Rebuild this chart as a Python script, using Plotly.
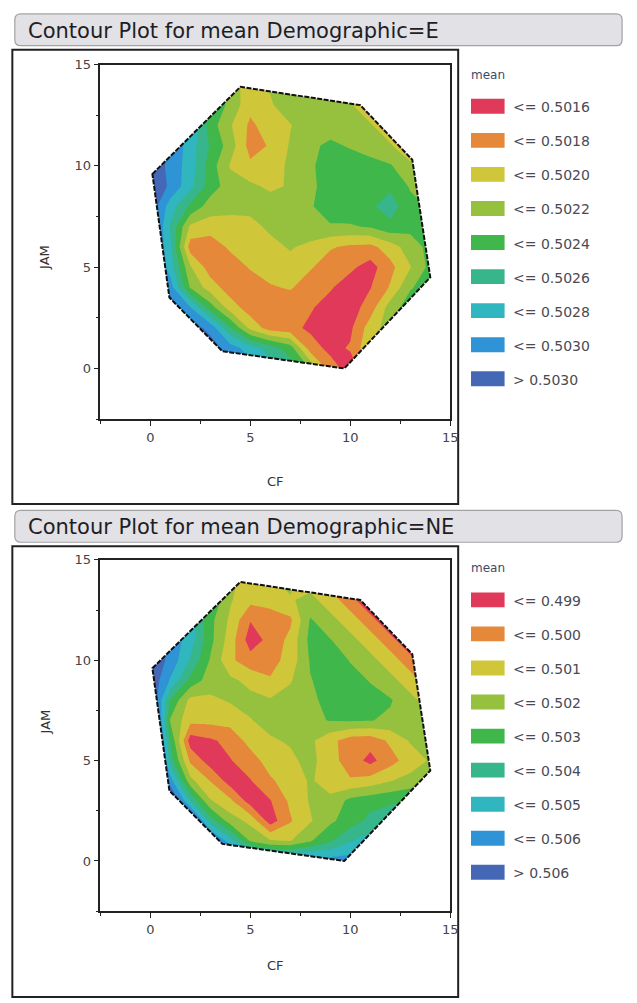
import plotly.graph_objects as go

W, H = 637, 1003

# ---------------- data ----------------
cf_grid = list(range(15))     # CF grid positions
jam_grid = list(range(15))    # JAM grid positions

# boundary of the design region (convex hull of the data)
hull_cf = [0.1, 4.5, 10.5, 13.1, 14.0, 9.7, 3.6, 0.95]
hull_jam = [9.6, 13.9, 13.0, 10.3, 4.5, 0.0, 0.85, 3.5]

# mean, Demographic=E   (rows: JAM = 0..14, columns: CF = 0..14)
mean_E = [
    [0.5033, 0.5033, 0.5033, 0.50324, 0.5031, 0.5029, 0.5027, 0.5025, 0.50218, 0.5017, 0.5015, 0.50178, 0.5021, 0.5023, 0.50238],
    [0.5033, 0.50326, 0.5032, 0.5031, 0.5029, 0.5027, 0.5025, 0.5023, 0.5017, 0.50154, 0.50162, 0.50198, 0.50218, 0.5023, 0.50238],
    [0.50326, 0.5032, 0.5031, 0.50294, 0.50242, 0.50194, 0.5017, 0.50166, 0.50156, 0.5015, 0.50156, 0.5019, 0.5021, 0.5023, 0.50238],
    [0.5032, 0.50314, 0.50282, 0.5023, 0.5019, 0.5017, 0.50168, 0.50166, 0.50162, 0.50152, 0.5015, 0.5017, 0.5021, 0.5023, 0.50238],
    [0.50316, 0.5029, 0.50218, 0.5019, 0.5017, 0.50168, 0.50178, 0.50182, 0.5017, 0.50162, 0.5015, 0.50159, 0.50182, 0.50218, 0.5023],
    [0.50316, 0.5027, 0.50202, 0.5017, 0.50168, 0.50182, 0.5019, 0.50192, 0.50182, 0.5017, 0.50164, 0.50152, 0.50174, 0.50199, 0.50226],
    [0.50314, 0.50264, 0.5017, 0.50168, 0.50184, 0.5019, 0.50194, 0.50202, 0.50194, 0.50182, 0.50176, 0.50174, 0.5019, 0.5021, 0.50226],
    [0.50316, 0.50258, 0.50196, 0.5019, 0.50192, 0.50194, 0.50204, 0.5021, 0.50216, 0.50218, 0.50218, 0.50222, 0.50234, 0.50226, 0.50218],
    [0.50316, 0.5027, 0.50236, 0.5021, 0.50206, 0.50206, 0.5021, 0.50204, 0.50218, 0.5023, 0.50232, 0.50236, 0.5025, 0.50226, 0.50218],
    [0.5032, 0.50296, 0.50266, 0.5023, 0.5021, 0.50204, 0.50196, 0.50202, 0.50218, 0.50224, 0.5023, 0.50234, 0.50236, 0.50218, 0.5021],
    [0.50316, 0.50294, 0.5027, 0.5023, 0.50198, 0.50184, 0.5019, 0.50204, 0.50218, 0.50226, 0.5023, 0.50228, 0.50222, 0.50204, 0.50206],
    [0.5032, 0.50298, 0.5027, 0.50238, 0.5021, 0.50172, 0.50182, 0.50202, 0.50216, 0.50224, 0.50218, 0.5021, 0.50202, 0.50186, 0.5019],
    [0.5032, 0.50298, 0.50278, 0.5023, 0.50202, 0.50176, 0.5019, 0.50199, 0.5021, 0.5021, 0.5021, 0.50202, 0.50186, 0.50186, 0.5019],
    [0.5031, 0.50298, 0.5027, 0.50238, 0.50214, 0.50186, 0.50198, 0.5021, 0.5021, 0.5021, 0.50202, 0.50186, 0.50186, 0.50186, 0.5019],
    [0.5029, 0.50278, 0.50258, 0.5023, 0.5021, 0.5019, 0.50202, 0.5021, 0.5021, 0.50206, 0.50186, 0.50186, 0.50186, 0.50186, 0.50186],
]

# mean, Demographic=NE
mean_NE = [
    [0.5075, 0.5075, 0.5075, 0.5073, 0.5070, 0.5065, 0.5059, 0.5059, 0.5057, 0.5055, 0.5055, 0.5049, 0.5045, 0.5045, 0.5045],
    [0.5075, 0.5073, 0.5069, 0.5065, 0.5045, 0.5019, 0.5011, 0.50095, 0.5019, 0.5029, 0.5039, 0.5045, 0.5045, 0.5045, 0.5045],
    [0.5073, 0.5069, 0.5075, 0.5035, 0.5015, 0.5007, 0.4985, 0.4999, 0.5009, 0.5018, 0.5025, 0.5033, 0.5037, 0.5039, 0.5039],
    [0.5069, 0.5075, 0.5039, 0.5011, 0.5002, 0.4985, 0.49895, 0.5002, 0.5011, 0.5012, 0.5023, 0.5026, 0.5028, 0.5031, 0.5035],
    [0.5069, 0.5055, 0.5013, 0.49995, 0.4985, 0.49895, 0.49985, 0.5005, 0.5011, 0.5006, 0.5001, 0.5004, 0.50095, 0.5013, 0.5017],
    [0.5105, 0.5035, 0.4998, 0.4985, 0.49895, 0.4995, 0.5005, 0.5008, 0.5013, 0.5004, 0.4995, 0.4987, 0.4996, 0.5005, 0.5011],
    [0.5095, 0.5029, 0.4985, 0.49885, 0.4993, 0.5004, 0.5009, 0.5011, 0.5012, 0.5003, 0.4995, 0.4994, 0.5002, 0.5011, 0.5015],
    [0.5089, 0.5019, 0.5003, 0.5003, 0.5004, 0.50095, 0.5013, 0.5013, 0.5018, 0.50205, 0.5021, 0.50205, 0.5018, 0.5011, 0.5013],
    [0.5075, 0.5029, 0.5007, 0.5008, 0.5011, 0.5013, 0.5011, 0.5014, 0.5018, 0.5023, 0.5024, 0.5023, 0.5021, 0.5013, 0.5005],
    [0.5069, 0.5049, 0.5027, 0.5015, 0.5012, 0.5007, 0.5001, 0.5009, 0.50195, 0.5024, 0.5023, 0.50195, 0.5013, 0.5005, 0.4994],
    [0.5069, 0.5057, 0.5039, 0.5019, 0.5002, 0.4994, 0.4996, 0.5004, 0.5021, 0.5025, 0.50195, 0.5013, 0.5005, 0.4994, 0.4980],
    [0.5068, 0.5057, 0.5045, 0.5023, 0.5005, 0.4985, 0.4993, 0.5003, 0.5023, 0.50205, 0.5013, 0.5005, 0.4994, 0.4980, 0.4975],
    [0.5065, 0.5055, 0.5045, 0.5023, 0.5008, 0.49905, 0.4995, 0.4998, 0.5021, 0.5013, 0.5005, 0.4994, 0.4980, 0.4975, 0.4975],
    [0.5059, 0.5049, 0.5045, 0.5029, 0.5011, 0.5003, 0.5004, 0.5009, 0.5013, 0.5005, 0.4994, 0.4980, 0.4975, 0.4975, 0.4975],
    [0.5049, 0.5045, 0.5035, 0.5029, 0.5011, 0.5008, 0.5009, 0.5013, 0.5005, 0.4994, 0.4980, 0.4975, 0.4975, 0.4975, 0.4975],
]

levels_E = [0.5016, 0.5018, 0.5020, 0.5022, 0.5024, 0.5026, 0.5028, 0.5030]
levels_NE = [0.499, 0.500, 0.501, 0.502, 0.503, 0.504, 0.505, 0.506]
legend_E = ["<= 0.5016", "<= 0.5018", "<= 0.5020", "<= 0.5022", "<= 0.5024",
            "<= 0.5026", "<= 0.5028", "<= 0.5030", "> 0.5030"]
legend_NE = ["<= 0.499", "<= 0.500", "<= 0.501", "<= 0.502", "<= 0.503",
             "<= 0.504", "<= 0.505", "<= 0.506", "> 0.506"]
titles = ["Contour Plot for mean Demographic=E", "Contour Plot for mean Demographic=NE"]

band_colors = ["#E0395A", "#E6883A", "#CFC63A", "#95C13F", "#3FB74B",
               "#37B68C", "#30B6BF", "#2E94D6", "#4468B6"]

# ---------------- styling helpers ----------------
FONT = "DejaVu Sans"
nb = len(band_colors)
nlev = nb - 1
cscale = []
for j, c in enumerate(band_colors):
    lo = max(0.0, (j - 0.5) / nlev)
    hi = min(1.0, (j + 0.5) / nlev)
    cscale += [[lo, c], [hi, c]]


def PX(v):
    return v / W


def PY(v):
    return 1 - v / H


def rrect(x0, y0, x1, y1, r):
    X = lambda v: f"{v / W:.5f}"
    Y = lambda v: f"{1 - v / H:.5f}"
    return (f"M {X(x0 + r)},{Y(y0)} L {X(x1 - r)},{Y(y0)} Q {X(x1)},{Y(y0)} {X(x1)},{Y(y0 + r)} "
            f"L {X(x1)},{Y(y1 - r)} Q {X(x1)},{Y(y1)} {X(x1 - r)},{Y(y1)} L {X(x0 + r)},{Y(y1)} "
            f"Q {X(x0)},{Y(y1)} {X(x0)},{Y(y1 - r)} L {X(x0)},{Y(y0 + r)} Q {X(x0)},{Y(y0)} {X(x0 + r)},{Y(y0)} Z")


hull_pts = " L ".join(f"{x},{y}" for x, y in zip(hull_cf, hull_jam))
mask_path = "M -0.3,-0.3 L 14.3,-0.3 L 14.3,14.3 L -0.3,14.3 Z M " + hull_pts + " Z"
hull_path = "M " + hull_pts + " Z"

panels = [
    dict(z=mean_E, levels=levels_E, labels=legend_E, title=titles[0], xa="x", ya="y",
         plot_top=58.0, plot_bot=415.0, bar=(15, 7, 630, 39), box=(12.5, 43, 464, 500.5),
         mean_y=68, leg0=100, cf_y=478, jam_y=238),
    dict(z=mean_NE, levels=levels_NE, labels=legend_NE, title=titles[1], xa="x2", ya="y2",
         plot_top=556.7, plot_bot=910.5, bar=(15, 507, 630, 539), box=(12.5, 543, 464, 997),
         mean_y=565, leg0=597, cf_y=975, jam_y=735),
]

fig = go.Figure()
shapes = []
annotations = []
layout_axes = {}

for i, p in enumerate(panels):
    lv = p["levels"]
    fig.add_trace(go.Contour(
        x=cf_grid, y=jam_grid, z=p["z"],
        xaxis=p["xa"], yaxis=p["ya"],
        autocontour=False,
        contours=dict(start=lv[0], end=lv[-1], size=round(lv[1] - lv[0], 6), coloring="fill"),
        colorscale=cscale, showscale=False,
        line=dict(width=0, smoothing=0),
        hoverinfo="skip",
    ))
    # mask outside the design region
    shapes.append(dict(type="path", path=mask_path, xref=p["xa"], yref=p["ya"],
                       fillcolor="white", line=dict(width=0), fillrule="evenodd", layer="above"))
    shapes.append(dict(type="path", path=hull_path, xref=p["xa"], yref=p["ya"],
                       fillcolor="rgba(0,0,0,0)", line=dict(color="#111", width=2, dash="5px,1.5px"),
                       layer="above"))

    # axes
    xkey = "xaxis" if i == 0 else "xaxis2"
    ykey = "yaxis" if i == 0 else "yaxis2"
    common = dict(range=[-2.5, 15], showline=True, linecolor="#222", linewidth=1.6, mirror=True,
                  ticks="outside", ticklen=5, tickwidth=1.4, tickcolor="#222", tick0=0, dtick=5,
                  minor=dict(ticks="outside", ticklen=3, tickwidth=1.2, tickcolor="#222", dtick=2.5, tick0=0),
                  showgrid=False, zeroline=False,
                  tickfont=dict(family=FONT, size=13, color="#444"))
    layout_axes[xkey] = dict(common, domain=[PX(101.7), PX(456)], anchor=p["ya"])
    layout_axes[ykey] = dict(common, domain=[PY(p["plot_bot"]), PY(p["plot_top"])], anchor=p["xa"])

    # title bar
    bx0, by0, bx1, by1 = p["bar"]
    shapes.append(dict(type="path", path=rrect(bx0, by0, bx1, by1, 6), xref="paper", yref="paper",
                       fillcolor="#E1E1E6", line=dict(color="#A2A2A6", width=1.2), layer="below"))
    annotations.append(dict(text=p["title"], x=PX(26), y=PY((by0 + by1) / 2 + 1), xref="paper", yref="paper",
                            xanchor="left", yanchor="middle", showarrow=False,
                            font=dict(family=FONT, size=21, color="#1E1E24")))
    # outer box
    ox0, oy0, ox1, oy1 = p["box"]
    shapes.append(dict(type="rect", x0=PX(ox0), x1=PX(ox1), y0=PY(oy1), y1=PY(oy0),
                       xref="paper", yref="paper", line=dict(color="#222", width=2),
                       fillcolor="rgba(0,0,0,0)", layer="below"))
    # axis titles
    annotations.append(dict(text="CF", x=PX(279), y=PY(p["cf_y"]), xref="paper", yref="paper",
                            showarrow=False, font=dict(family=FONT, size=13, color="#333")))
    annotations.append(dict(text="JAM", x=PX(36), y=PY(p["jam_y"]), xref="paper", yref="paper",
                            showarrow=False, textangle=-90, font=dict(family=FONT, size=13, color="#333")))
    # legend
    annotations.append(dict(text="mean", x=PX(475), y=PY(p["mean_y"]), xref="paper", yref="paper",
                            xanchor="left", yanchor="middle", showarrow=False,
                            font=dict(family=FONT, size=12, color="#3A4A6A")))
    for k, (lab, col) in enumerate(zip(p["labels"], band_colors)):
        cy = p["leg0"] + 34.3 * k
        shapes.append(dict(type="rect", x0=PX(477), x1=PX(511), y0=PY(cy + 7.5), y1=PY(cy - 7.5),
                           xref="paper", yref="paper", fillcolor=col, line=dict(width=0)))
        annotations.append(dict(text=lab, x=PX(517), y=PY(cy + 1), xref="paper", yref="paper",
                                xanchor="left", yanchor="middle", showarrow=False,
                                font=dict(family=FONT, size=14, color="#4A4A55")))

fig.update_layout(
    width=W, height=H, margin=dict(l=0, r=0, t=0, b=0),
    paper_bgcolor="white", plot_bgcolor="white",
    showlegend=False, shapes=shapes, annotations=annotations,
    **layout_axes,
)

fig.write_html("out.html")
